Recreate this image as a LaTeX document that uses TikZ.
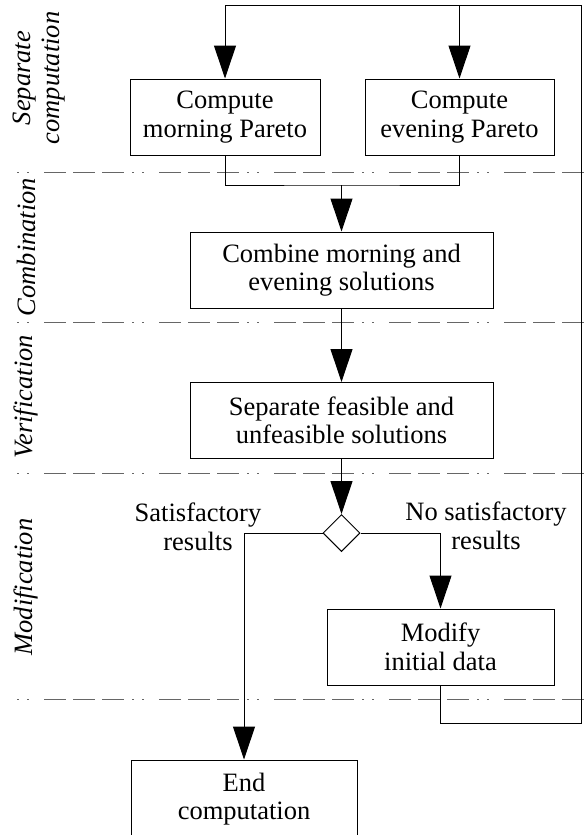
\documentclass[tikz,border=0pt]{standalone}
\usepackage{fontspec}
\setmainfont{Liberation Serif}
\usetikzlibrary{positioning, calc, arrows.meta, shapes.geometric}

\newcommand{\chartfont}{\fontsize{26.5}{28.5}\selectfont}

\tikzset{
  stage/.style={draw, line width=1pt, minimum height=76pt, inner sep=0pt, align=center},
  choice/.style={draw, diamond, aspect=1, line width=1pt, minimum width=37pt, minimum height=37pt, inner sep=0pt},
  branch/.style={align=center},
  wire/.style={line width=1pt},
  flow/.style={line width=1pt, -{Triangle[length=33pt,width=22pt]}},
  lane/.style={line width=1pt, black!60, dash pattern=on 2pt off 8pt on 2pt off 15pt on 22pt off 7pt on 22pt off 7pt on 22pt off 8pt},
  lanelabel/.style={rotate=90, font=\chartfont\itshape, align=center}
}

\begin{document}
\begin{tikzpicture}[x=1pt, y=-1pt, font=\chartfont]
  \clip (0,0) rectangle (587,835);

  % phase separators
  \foreach \y in {172, 322, 473, 699}
    \draw[lane] (17,\y) -- (587,\y);

  \node[lanelabel] (sepcomp) at (39,78) {Separate\\computation};
  \node[lanelabel] (combi) at (26,247) {Combination};
  \node[lanelabel] (verif) at (26,397) {Verification};
  \node[lanelabel] (modif) at (26,587) {Modification};

  % steps
  \node[stage, minimum width=190pt] (morning) at (225,117) {Compute\\morning Pareto};
  \node[stage, minimum width=189pt] (evening) at (459.5,117) {Compute\\evening Pareto};
  \node[stage, minimum width=303pt] (combine) at (341.5,270) {Combine morning and\\evening solutions};
  \node[stage, minimum width=303pt] (verify) at (341.5,420.5) {Separate feasible and\\unfeasible solutions};
  \node[choice] (test) at (341.5,533) {};
  \node[stage, minimum width=227pt] (modify) at (440.5,647) {Modify\\initial data};
  \node[stage, minimum width=226pt, minimum height=78pt] (stop) at (244,799) {End\\computation};

  \node[branch] (ok) at (198,527) {Satisfactory\\results};
  \node[branch] (notok) at (486,526) {No satisfactory\\results};

  \coordinate (merge) at (341.5,185);
  \coordinate (loopcorner) at (581,723);
  \coordinate (topline) at (581,5);

  % connectors
  \draw[wire] (morning.south) |- (merge) -| (evening.south);
  \draw[flow] (merge) -- (combine.north);
  \draw[flow] (combine.south) -- (verify.north);
  \draw[flow] (verify.south) -- (test.north);
  \draw[flow] (test.west) -| (stop.north);
  \draw[flow] (test.east) -| (modify.north);
  \draw[wire] (modify.south) |- (loopcorner) |- (morning.north |- topline);
  \draw[flow] (morning.north |- topline) -- (morning.north);
  \draw[flow] (evening.north |- topline) -- (evening.north);
\end{tikzpicture}
\end{document}
